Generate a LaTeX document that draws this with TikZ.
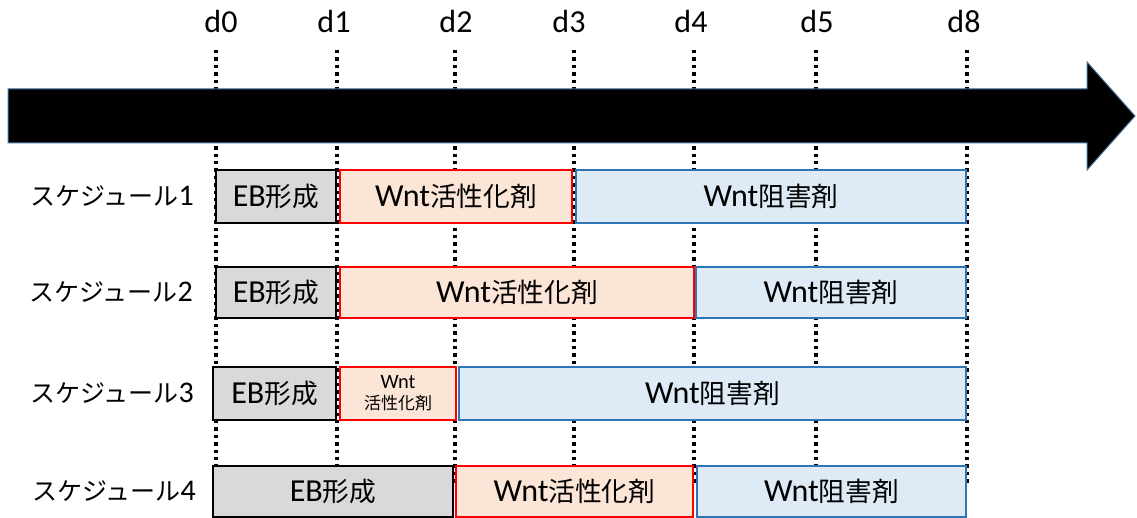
\documentclass[tikz,border=0pt]{standalone}
\usepackage{fontspec}
\setmainfont{Carlito}[Scale=1.2]
\newfontfamily\jp{Noto Sans CJK JP}
\newcommand{\J}[1]{{\jp #1}}
\definecolor{ebfill}{HTML}{D9D9D9}
\definecolor{actfill}{HTML}{FBE5D6}
\definecolor{actline}{HTML}{FF0000}
\definecolor{inhfill}{HTML}{DEEBF7}
\definecolor{inhline}{HTML}{2E75B6}
\definecolor{arrowline}{HTML}{41719C}
\tikzset{
  box/.style={rectangle, inner sep=0pt, outer sep=0pt, line width=2pt,
    font=\fontsize{26.7}{30}\selectfont},
  ebbox/.style={box, draw=black, fill=ebfill},
  actbox/.style={box, draw=actline, fill=actfill},
  inhbox/.style={box, draw=inhline, fill=inhfill},
  rowlabel/.style={anchor=east, inner sep=0pt, font=\fontsize{25}{30}\selectfont},
  daylabel/.style={anchor=base, inner sep=0pt, font=\fontsize{26.7}{30}\selectfont},
  guide/.style={line width=3.4pt, dash pattern=on 3.4pt off 4pt, black},
}
\begin{document}
\begin{tikzpicture}[x=1pt,y=-1pt]
\useasboundingbox (0,0) rectangle (1137,518);
% day labels
\node[daylabel] (d0) at (221,33) {d0};
\node[daylabel] (d1) at (334,33) {d1};
\node[daylabel] (d2) at (456,33) {d2};
\node[daylabel] (d3) at (569,33) {d3};
\node[daylabel] (d4) at (691,33) {d4};
\node[daylabel] (d5) at (817,33) {d5};
\node[daylabel] (d8) at (964,33) {d8};
% guide lines
\foreach \n/\x in {0/216,1/337,2/455,3/574,4/694,5/816,8/967}{
  \coordinate (t\n) at (\x,50);
  \coordinate (b\n) at (\x,485);
  \draw[guide] (t\n) -- (b\n);
}
% big arrow
\draw[fill=black, draw=arrowline, line width=1pt]
  (8,89) -- (1087,89) -- (1087,62) -- (1135,116) -- (1087,170) -- (1087,143) -- (8,143) -- cycle;
% row 1
\node[rowlabel] (l1) at (194,196.5) {\J{スケジュール}1};
\node[ebbox, minimum width=120pt, minimum height=53pt] (r1eb) at (276,196.5) {EB\J{形成}};
\node[actbox, minimum width=232pt, minimum height=53pt] (r1act) at (456,196.5) {Wnt\J{活性化剤}};
\node[inhbox, minimum width=390pt, minimum height=53pt] (r1inh) at (771,196.5) {Wnt\J{阻害剤}};
% row 2
\node[rowlabel] (l2) at (193,292.5) {\J{スケジュール}2};
\node[ebbox, minimum width=120pt, minimum height=51pt] (r2eb) at (276,292.5) {EB\J{形成}};
\node[actbox, minimum width=354pt, minimum height=51pt] (r2act) at (517,292.5) {Wnt\J{活性化剤}};
\node[inhbox, minimum width=270pt, minimum height=51pt] (r2inh) at (831,292.5) {Wnt\J{阻害剤}};
% row 3
\node[rowlabel] (l3) at (194,393.5) {\J{スケジュール}3};
\node[ebbox, minimum width=123pt, minimum height=53pt] (r3eb) at (274.5,393.5) {EB\J{形成}};
\node[actbox, minimum width=116pt, minimum height=53pt, align=center,
  font=\fontsize{17}{21}\selectfont] (r3act) at (398,393.5) {Wnt\\\J{活性化剤}};
\node[inhbox, minimum width=507pt, minimum height=53pt] (r3inh) at (712.5,393.5) {Wnt\J{阻害剤}};
% row 4
\node[rowlabel] (l4) at (196,491.5) {\J{スケジュール}4};
\node[ebbox, minimum width=240pt, minimum height=51pt] (r4eb) at (333,491.5) {EB\J{形成}};
\node[actbox, minimum width=237pt, minimum height=51pt] (r4act) at (574.5,491.5) {Wnt\J{活性化剤}};
\node[inhbox, minimum width=269pt, minimum height=51pt] (r4inh) at (831.5,491.5) {Wnt\J{阻害剤}};
\end{tikzpicture}
\end{document}
